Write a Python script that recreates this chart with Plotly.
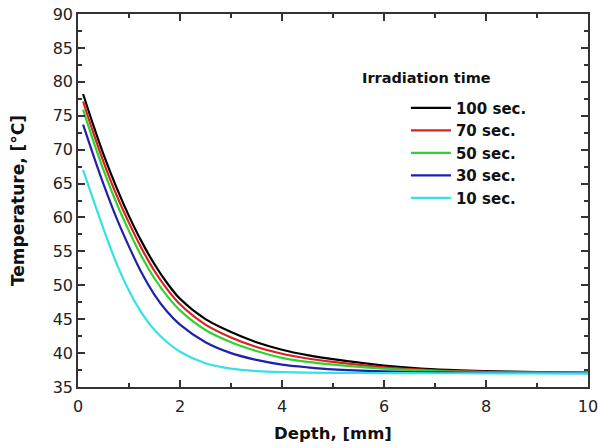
import plotly.graph_objects as go

depth_100 = [0.1, 0.3, 0.5, 0.75, 1.0, 1.25, 1.5, 1.75, 2.0, 2.5, 3.0, 3.5, 4.0, 4.5, 5.0, 6.0, 7.0, 8.0, 9.0, 10.0]
temp_100 = [78.2, 73.6, 69.3, 64.5, 60.2, 56.4, 53.1, 50.3, 48.0, 45.0, 43.1, 41.6, 40.5, 39.7, 39.1, 38.15, 37.6, 37.35, 37.2, 37.12]
temp_70 = [77.1, 72.5, 68.2, 63.4, 59.2, 55.4, 52.1, 49.4, 47.2, 44.2, 42.3, 40.9, 39.9, 39.2, 38.7, 37.9, 37.45, 37.25, 37.15, 37.1]
temp_50 = [75.9, 71.3, 67.0, 62.2, 58.0, 54.2, 51.0, 48.4, 46.3, 43.4, 41.6, 40.3, 39.3, 38.7, 38.3, 37.7, 37.35, 37.2, 37.12, 37.08]
temp_30 = [73.7, 69.2, 64.9, 60.0, 55.7, 51.8, 48.6, 46.1, 44.2, 41.6, 40.0, 39.0, 38.3, 37.9, 37.6, 37.3, 37.15, 37.1, 37.07, 37.05]
temp_10 = [67.0, 62.6, 58.3, 53.3, 49.2, 45.9, 43.4, 41.6, 40.2, 38.5, 37.7, 37.35, 37.2, 37.12, 37.08, 37.05, 37.03, 37.02, 37.01, 37.0]

series_names = ["100 sec.", "70 sec.", "50 sec.", "30 sec.", "10 sec."]
series_values = [temp_100, temp_70, temp_50, temp_30, temp_10]
series_colors = ["#000000", "#dd2020", "#33d033", "#2020aa", "#33e3e3"]

FONT = "DejaVu Sans, Liberation Sans, Arial, sans-serif"

fig = go.Figure()
for name, vals, col in zip(series_names, series_values, series_colors):
    fig.add_trace(go.Scatter(x=depth_100, y=vals, mode="lines", name=f"<b>{name}</b>",
                             line=dict(color=col, width=2.2, shape="spline", smoothing=0.8)))

fig.update_layout(
    width=598, height=448,
    margin=dict(l=78, r=10, t=14, b=61),
    plot_bgcolor="white", paper_bgcolor="white",
    font=dict(family=FONT, size=16, color="#222222"),
    showlegend=True,
    legend=dict(x=0.643, y=0.792, xanchor="left", yanchor="top",
                bgcolor="rgba(0,0,0,0)", borderwidth=0,
                font=dict(family=FONT, size=15, color="#111111"),
                tracegroupgap=0, itemwidth=40),
    annotations=[dict(text="<b>Irradiation time</b>", xref="paper", yref="paper",
                      x=0.553, y=0.828, xanchor="left", yanchor="middle", showarrow=False,
                      font=dict(family=FONT, size=14.5, color="#111111"))],
)
fig.update_xaxes(range=[0, 10], dtick=2, tick0=0, ticks="inside", ticklen=7, tickwidth=1.5,
                 tickcolor="#333333", showline=True, linecolor="#333333", linewidth=1.5,
                 mirror="ticks", showgrid=False, zeroline=False, automargin=False,
                 ticklabelstandoff=4, ticklabeloverflow="allow",
                 tickfont=dict(family=FONT, size=16, color="#222222"),
                 minor=dict(dtick=1, ticks="inside", ticklen=4, tickwidth=1.5, tickcolor="#333333"),
                 title=dict(text="<b>Depth, [mm]</b>", font=dict(family=FONT, size=16.5, color="#111111"), standoff=12))
fig.update_yaxes(range=[35, 90], dtick=5, tick0=35, ticks="inside", ticklen=7, tickwidth=1.5,
                 tickcolor="#333333", showline=True, linecolor="#333333", linewidth=1.5,
                 mirror="ticks", showgrid=False, zeroline=False, automargin=False,
                 ticklabeloverflow="allow",
                 tickfont=dict(family=FONT, size=16, color="#222222"),
                 minor=dict(dtick=2.5, ticks="inside", ticklen=4, tickwidth=1.5, tickcolor="#333333"),
                 title=dict(text="<b>Temperature, [°C]</b>", font=dict(family=FONT, size=17, color="#111111"), standoff=24))

fig.write_html("out.html")
